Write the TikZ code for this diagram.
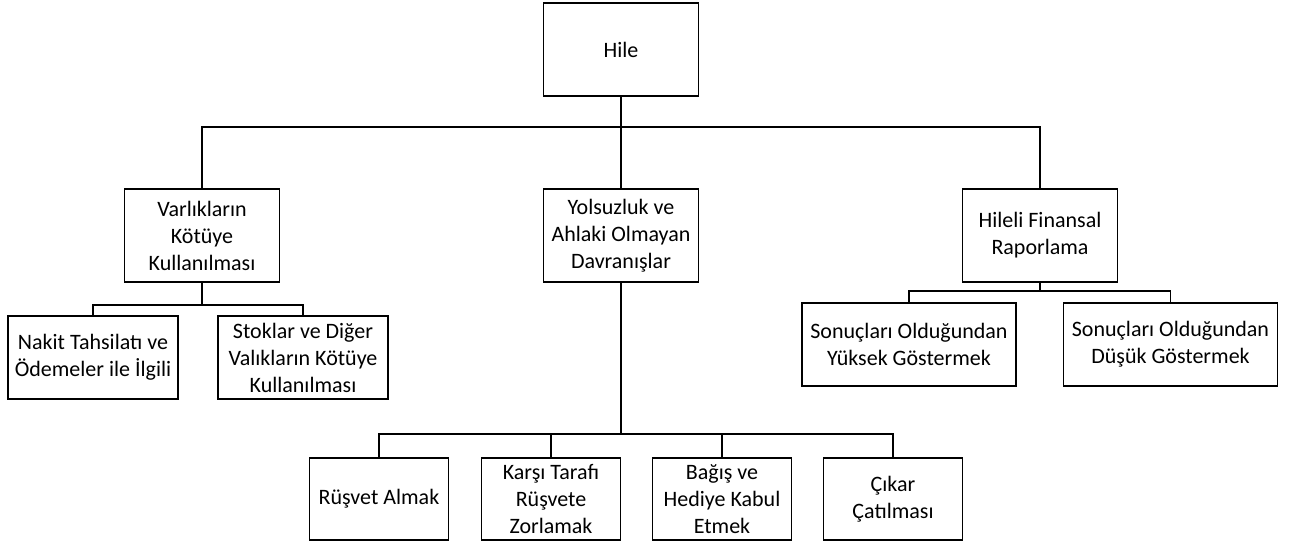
\documentclass[tikz,border=0pt]{standalone}
\usepackage{fontspec}
\setmainfont{Carlito}
\begin{document}
\begin{tikzpicture}[x=1pt,y=-1pt,
  box/.style={draw=black, line width=1.4pt, rectangle, inner sep=0pt,
    align=center, text=black, font=\fontsize{22}{27}\selectfont},
  lvl/.style={box, minimum width=155pt, minimum height=93pt},
  wide/.style={box, minimum width=214pt, minimum height=83pt},
  leaf/.style={box, minimum width=170pt, minimum height=83pt},
  small/.style={box, minimum width=139pt, minimum height=82pt},
  link/.style={draw=black, line width=1.4pt}]
\useasboundingbox (0,0) rectangle (1291,547);

% root
\node[lvl] (hile) at (621,49.5) {Hile};

% second level
\node[lvl] (varlik) at (202,235.5) {Varlıkların\\Kötüye\\Kullanılması};
\node[lvl] (yolsuz) at (621,235.5) {Yolsuzluk ve\\Ahlaki Olmayan\\Davranışlar};
\node[lvl] (hileli) at (1040,235.5) {Hileli Finansal\\Raporlama};

% under Varlıkların Kötüye Kullanılması
\node[leaf] (nakit) at (93,357.5) {Nakit Tahsilatı ve\\Ödemeler ile İlgili};
\node[leaf] (stok) at (303,357.5) {Stoklar ve Diğer\\Valıkların Kötüye\\Kullanılması};

% under Hileli Finansal Raporlama
\node[wide] (yuksek) at (909,344.5) {Sonuçları Olduğundan\\Yüksek Göstermek};
\node[wide] (dusuk) at (1170.5,344.5) {Sonuçları Olduğundan\\Düşük Göstermek};

% under Yolsuzluk ve Ahlaki Olmayan Davranışlar
\node[small] (rusvet) at (379,499) {Rüşvet Almak};
\node[small] (karsi) at (551,499) {Karşı Tarafı\\Rüşvete\\Zorlamak};
\node[small] (bagis) at (722,499) {Bağış ve\\Hediye Kabul\\Etmek};
\node[small] (cikar) at (893,499) {Çıkar\\Çatılması};

% branching points
\coordinate (j1) at (621,127);
\coordinate (j2) at (202,305);
\coordinate (j3) at (1040,291);
\coordinate (j4) at (621,434);

% connectors
\draw[link] (hile.south) -- (j1);
\draw[link] (varlik.north) |- (j1) -| (hileli.north);
\draw[link] (j1) -- (yolsuz.north);

\draw[link] (varlik.south) -- (j2);
\draw[link] (nakit.north) |- (j2) -| (stok.north);

\draw[link] (hileli.south) -- (j3);
\draw[link] (yuksek.north) |- (j3) -| (dusuk.north);

\draw[link] (yolsuz.south) -- (j4);
\draw[link] (rusvet.north) |- (j4) -| (cikar.north);
\draw[link] (karsi.north) |- (j4);
\draw[link] (bagis.north) |- (j4);
\end{tikzpicture}
\end{document}
